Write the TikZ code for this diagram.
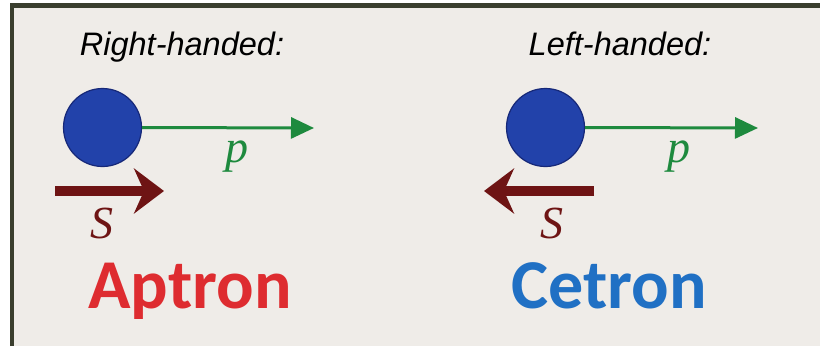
\documentclass[tikz,border=0pt]{standalone}
\usepackage{fontspec}
\setmainfont{Liberation Serif}
\newfontfamily\labelfont{Liberation Sans}
\newfontfamily\namefont{Carlito}
\usetikzlibrary{arrows.meta}
\definecolor{bgc}{RGB}{239,236,232}
\definecolor{framec}{RGB}{58,62,46}
\definecolor{ballfill}{RGB}{34,66,170}
\definecolor{balldraw}{RGB}{22,40,120}
\definecolor{pgreen}{RGB}{30,138,62}
\definecolor{sred}{RGB}{110,20,20}
\definecolor{aptred}{RGB}{222,44,48}
\definecolor{cetblue}{RGB}{32,112,196}
\tikzset{
  ball/.style={circle,fill=ballfill,draw=balldraw,line width=1.2pt,minimum size=78pt,inner sep=0pt},
  parrow/.style={pgreen,line width=3pt,-{Triangle[length=23pt,width=21pt]}},
  sarrow/.style={sred,line width=10pt,-{Stealth[length=30pt,width=45pt,inset=10pt]}},
  headtext/.style={anchor=base,font=\labelfont\itshape\fontsize{32.5}{34}\selectfont,text=black},
  vlabel/.style={anchor=base,font=\itshape\fontsize{46}{46}\selectfont},
  nametext/.style={anchor=base,font=\namefont\bfseries\fontsize{70}{70}\selectfont},
}
\begin{document}
\begin{tikzpicture}[x=1pt,y=-1pt]
\useasboundingbox (0,0) rectangle (820,346);
\fill[white] (0,0) rectangle (820,346);
\fill[bgc] (12,5) rectangle (820,346);
\draw[framec,line width=4.5pt] (12,346) -- (12,5.5) -- (820,5.5);
% left panel
\node[headtext] (rh) at (182,55) {Right-handed:};
\node[ball] (b1) at (102.5,127.5) {};
\coordinate (p1end) at (314,128);
\draw[parrow] (b1.east) -- (p1end);
\node[vlabel,text=pgreen] (p1) at (237,162) {p};
\coordinate (s1start) at (55,191);
\coordinate (s1end) at (164,191);
\draw[sarrow] (s1start) -- (s1end);
\node[vlabel,text=sred] (s1) at (102,238) {S};
\node[nametext,text=aptred] (a1) at (190,308) {Aptron};
% right panel
\node[headtext] (lh) at (620,55) {Left-handed:};
\node[ball] (b2) at (545.5,127.5) {};
\coordinate (p2end) at (758,128);
\draw[parrow] (b2.east) -- (p2end);
\node[vlabel,text=pgreen] (p2) at (679,162) {p};
\coordinate (s2start) at (594,191);
\coordinate (s2end) at (484,191);
\draw[sarrow] (s2start) -- (s2end);
\node[vlabel,text=sred] (s2) at (552,238) {S};
\node[nametext,text=cetblue] (c1) at (609,308) {Cetron};
\end{tikzpicture}
\end{document}
